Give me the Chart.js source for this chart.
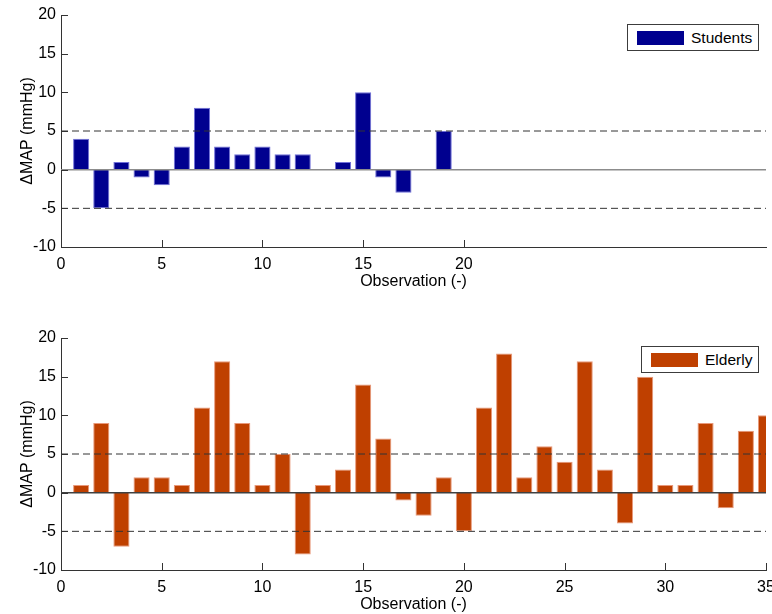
<!DOCTYPE html>
<html><head><meta charset="utf-8">
<script src="https://cdn.jsdelivr.net/npm/chart.js@4.4.0/dist/chart.umd.min.js"></script>
<style>
html,body{margin:0;padding:0;background:#fff;overflow:hidden;width:772px;height:614px;}
#wrap{position:relative;width:772px;height:614px;}
canvas{position:absolute;left:0;}
.legend{position:absolute;box-sizing:border-box;border:1px solid #3c3c3c;background:#fff;height:27px;display:flex;align-items:center;font:15.5px "Liberation Sans",Arial,sans-serif;color:#000;white-space:nowrap;}
.legend .sw{display:inline-block;width:47px;height:14px;margin-left:9px;margin-right:7px;}
</style></head>
<body>
<div id="wrap">
<canvas id="c1" width="772" height="307" style="top:0"></canvas>
<canvas id="c2" width="772" height="307" style="top:307px"></canvas>
<div class="legend" id="lg1" style="left:627px;top:24px;width:132px"><span class="sw" style="background:#00008f"></span><span class="tx"></span></div>
<div class="legend" id="lg2" style="left:641px;top:346px;width:118px"><span class="sw" style="background:#bf4000"></span><span class="tx"></span></div>
</div>
<script>
// ---- data ----
const studentsObs = [1,2,3,4,5,6,7,8,9,10,11,12,13,14,15,16,17,18,19];
const studentsValues = [4,-5,1,-1,-2,3,8,3,2,3,2,2,0,1,10,-1,-3,0,5];
const elderlyObs = [1,2,3,4,5,6,7,8,9,10,11,12,13,14,15,16,17,18,19,20,21,22,23,24,25,26,27,28,29,30,31,32,33,34,35];
const elderlyValues = [1,9,-7,2,2,1,11,17,9,1,5,-8,1,3,14,7,-1,-3,2,-5,11,18,2,6,4,17,3,-4,15,1,1,9,-2,8,10];
const yTicks = [-10,-5,0,5,10,15,20];
const topXTicks = [0,5,10,15,20];
const bottomXTicks = [0,5,10,15,20,25,30,35];
const refLevels = [-5,5];
const zeroLevel = 0;
const xRange = [0,35];
const yRange = [-10,20];
const seriesNames = ['Students','Elderly'];

Chart.defaults.font.family = '"Liberation Sans", Arial, Helvetica, sans-serif';
Chart.defaults.font.size = 16;
Chart.defaults.color = '#000';

const inwardTicks = {
  id: 'inwardTicks',
  afterDraw(chart) {
    const ctx = chart.ctx, xs = chart.scales.x, ys = chart.scales.y, a = chart.chartArea;
    ctx.save();
    ctx.strokeStyle = '#333';
    ctx.lineWidth = 1;
    ctx.beginPath();
    xs.ticks.forEach(t => {
      const px = Math.round(xs.getPixelForValue(t.value)) + 0.5;
      ctx.moveTo(px, a.bottom); ctx.lineTo(px, a.bottom - 7);
    });
    ys.ticks.forEach(t => {
      const py = Math.round(ys.getPixelForValue(t.value)) + 0.5;
      ctx.moveTo(a.left, py); ctx.lineTo(a.left + 7, py);
    });
    ctx.stroke();
    ctx.restore();
  }
};

function makeChart(id, obs, values, name, color, edge, xTicks, padTop, xAxisH, xTitlePad, zeroColor) {
  const datasets = [{
    type: 'bar', label: name,
    data: obs.map((o, i) => ({x: o, y: values[i]})),
    backgroundColor: color, borderColor: edge, borderWidth: 1,
    barPercentage: 0.8, categoryPercentage: 1.0, order: 2
  }, {
    type: 'line', label: 'zero',
    data: [{x: xRange[0], y: zeroLevel}, {x: xRange[1], y: zeroLevel}],
    borderColor: zeroColor, borderWidth: 1.5, pointRadius: 0, order: 1
  }];
  refLevels.forEach(l => datasets.push({
    type: 'line', label: 'ref' + l,
    data: [{x: xRange[0], y: l}, {x: xRange[1], y: l}],
    borderColor: '#333', borderWidth: 1, borderDash: [7, 4], pointRadius: 0, order: 1
  }));
  return new Chart(document.getElementById(id), {
    type: 'bar',
    data: {datasets},
    options: {
      responsive: false, animation: false, events: [],
      layout: {padding: {left: 0, right: 6, top: padTop, bottom: 0}},
      plugins: {legend: {display: false}, tooltip: {enabled: false}},
      scales: {
        x: {
          type: 'linear', min: xRange[0], max: xRange[1], offset: false,
          grid: {display: false, drawTicks: false, offset: false},
          border: {display: true, color: '#333', width: 1},
          ticks: {padding: 8, color: '#000', maxRotation: 0, autoSkip: false},
          afterBuildTicks: s => { s.ticks = xTicks.map(v => ({value: v})); },
          afterFit: s => { s.height = xAxisH; s.paddingLeft = 0; s.paddingRight = 0; },
          title: {display: true, text: 'Observation (-)', color: '#000', padding: {top: 0, bottom: xTitlePad}}
        },
        y: {
          type: 'linear', min: yRange[0], max: yRange[1],
          grid: {display: false, drawTicks: false},
          border: {display: true, color: '#333', width: 1},
          ticks: {padding: 5, color: '#000'},
          afterBuildTicks: s => { s.ticks = yTicks.map(v => ({value: v})); },
          afterFit: s => { s.width = 61; s.paddingTop = 0; s.paddingBottom = 0; },
          title: {display: true, text: '\u0394MAP (mmHg)', color: '#000', padding: {top: 18, bottom: 0}}
        }
      }
    },
    plugins: [inwardTicks]
  });
}

makeChart('c1', studentsObs, studentsValues, seriesNames[0], '#00008f', '#7070d8', topXTicks, 15, 60, 16, '#8c8c8c');
makeChart('c2', elderlyObs, elderlyValues, seriesNames[1], '#bf4000', '#e8987a', bottomXTicks, 31, 44, 0, '#404040');
document.querySelector('#lg1 .tx').textContent = seriesNames[0];
document.querySelector('#lg2 .tx').textContent = seriesNames[1];
</script>
</body></html>
